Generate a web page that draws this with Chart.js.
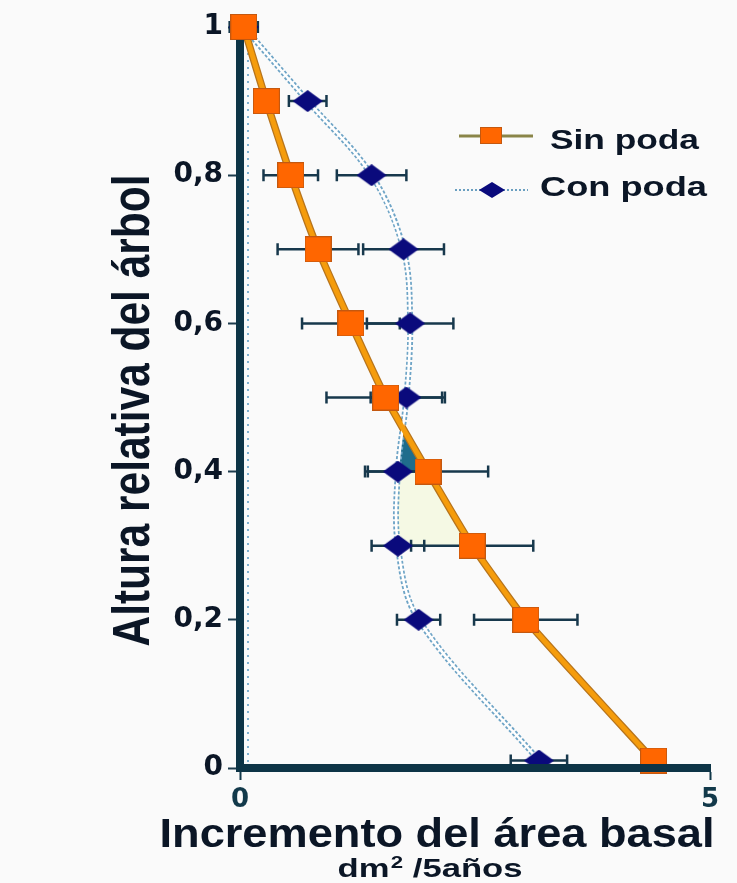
<!DOCTYPE html>
<html>
<head>
<meta charset="utf-8">
<title>Incremento del área basal</title>
<script src="https://cdn.jsdelivr.net/npm/chart.js@4.4.0/dist/chart.umd.min.js"></script>
<style>
  html, body { margin: 0; padding: 0; background: #fafafa; }
  #wrap { position: relative; width: 737px; height: 883px; }
</style>
</head>
<body>
<div id="wrap"><canvas id="chart"></canvas></div>
<script>
// relative tree height for each measured row
const heights = [1, 0.9, 0.8, 0.7, 0.6, 0.5, 0.4, 0.3, 0.2, 0.01];

// basal area increment (dm2 / 5 years) and the +/- error
const sinPoda    = [0.04, 0.28, 0.54, 0.83, 1.18, 1.55, 2.00, 2.47, 3.04, 4.40];
const sinPodaErr = [0.15, 0,    0.29, 0.43, 0.52, 0.63, 0.64, 0.65, 0.55, 0];
const conPoda    = [0.04, 0.72, 1.40, 1.74, 1.81, 1.77, 1.68, 1.68, 1.90, 3.18];
const conPodaErr = [0,    0.20, 0.37, 0.43, 0.46, 0.38, 0.35, 0.28, 0.23, 0.30];

const seriesNames = ['Sin poda', 'Con poda'];
const xTickLabels = ['0', '5'];
const yTickLabels = ['0', '0,2', '0,4', '0,6', '0,8', '1'];

// colours
const ORANGE = '#ff6600';
const ORANGE_LINE = '#f59c0c';
const NAVY = '#0a0a7c';
const AXIS = '#0d3446';
const TEXT = '#0b1626';

const toPoints = xs => xs.map((x, i) => ({ x: x, y: heights[i] }));

// marker images (the original markers are a bit wider than tall)
function squareMarker(w, h) {
    const c = document.createElement('canvas');
    c.width = w; c.height = h;
    const g = c.getContext('2d');
    g.fillStyle = '#c4580f';
    g.fillRect(0, 0, w, h);
    g.fillStyle = ORANGE;
    g.fillRect(1, 1, w - 2, h - 2);
    return c;
}

function diamondMarker(w, h) {
    const c = document.createElement('canvas');
    c.width = w; c.height = h;
    const g = c.getContext('2d');
    g.fillStyle = NAVY;
    g.beginPath();
    g.moveTo(w / 2, 0);
    g.lineTo(w, h / 2);
    g.lineTo(w / 2, h);
    g.lineTo(0, h / 2);
    g.closePath();
    g.fill();
    return c;
}

const squareImg = squareMarker(27, 26);
const diamondImg = diamondMarker(30, 22);

// text squeezed/stretched to a given width
function stretchedText(ctx, text, font, cx, baseline, width) {
    ctx.save();
    ctx.font = font;
    const w = ctx.measureText(text).width;
    ctx.translate(cx, baseline);
    ctx.scale(width / w, 1);
    ctx.textAlign = 'center';
    ctx.textBaseline = 'alphabetic';
    ctx.fillText(text, 0, 0);
    ctx.restore();
}

// shaded area where the two profiles cross, plus the dotted guide by the axis
const crossFill = {
    id: 'crossFill',
    beforeDatasetsDraw(chart) {
        const { ctx, chartArea, scales: { x, y } } = chart;
        const i = heights.indexOf(0.5), j = i + 1, k = i + 2;
        const d0 = sinPoda[i] - conPoda[i];
        const d1 = sinPoda[j] - conPoda[j];
        const t = d0 / (d0 - d1);
        const cx = sinPoda[i] + t * (sinPoda[j] - sinPoda[i]);
        const cy = heights[i] + t * (heights[j] - heights[i]);

        const poly = (pts, color) => {
            ctx.beginPath();
            pts.forEach((p, n) => {
                const px = x.getPixelForValue(p[0]);
                const py = y.getPixelForValue(p[1]);
                if (n === 0) ctx.moveTo(px, py); else ctx.lineTo(px, py);
            });
            ctx.closePath();
            ctx.fillStyle = color;
            ctx.fill();
        };

        ctx.save();
        poly([[sinPoda[j], heights[j]], [sinPoda[k], heights[k]],
              [conPoda[k], heights[k]], [conPoda[j], heights[j]]], '#f5f9e4');
        poly([[cx, cy], [sinPoda[j], heights[j]], [conPoda[j], heights[j]]], '#1f6d8c');

        ctx.strokeStyle = '#7fb0cf';
        ctx.lineWidth = 2;
        ctx.setLineDash([2, 5]);
        ctx.beginPath();
        ctx.moveTo(chartArea.left + 8, chartArea.top + 12);
        ctx.lineTo(chartArea.left + 8, chartArea.bottom - 6);
        ctx.stroke();
        ctx.restore();
        chart.$errDrawn = false;
    }
};

// horizontal error bars, drawn once just before the first marker set
const errorBars = {
    id: 'errorBars',
    beforeDatasetDraw(chart, args) {
        const ds = chart.data.datasets[args.index];
        if (!ds.errors || chart.$errDrawn) return;
        chart.$errDrawn = true;
        const { ctx, scales: { x, y } } = chart;
        ctx.save();
        ctx.strokeStyle = '#17384c';
        ctx.lineWidth = 2.5;
        chart.data.datasets.forEach(set => {
            if (!set.errors) return;
            set.data.forEach((p, n) => {
                const e = set.errors[n];
                if (!e) return;
                const x1 = x.getPixelForValue(p.x - e);
                const x2 = x.getPixelForValue(p.x + e);
                const py = y.getPixelForValue(p.y);
                ctx.beginPath();
                ctx.moveTo(x1, py); ctx.lineTo(x2, py);
                ctx.moveTo(x1, py - 6); ctx.lineTo(x1, py + 6);
                ctx.moveTo(x2, py - 6); ctx.lineTo(x2, py + 6);
                ctx.stroke();
            });
        });
        ctx.restore();
    }
};

// titles and legend
const decorations = {
    id: 'decorations',
    beforeDraw(chart) {
        const { ctx, width, height } = chart;
        ctx.save();
        ctx.fillStyle = '#fafafa';
        ctx.fillRect(0, 0, width, height);
        ctx.restore();
    },
    afterDraw(chart) {
        const { ctx, chartArea } = chart;
        ctx.save();
        ctx.fillStyle = TEXT;

        // y title, rotated
        ctx.save();
        ctx.font = 'bold 40px "Liberation Sans", Arial, sans-serif';
        const yt = 'Altura relativa del árbol';
        const yw = ctx.measureText(yt).width;
        ctx.translate(149, (chartArea.top + chartArea.bottom) / 2 + 13);
        ctx.rotate(-Math.PI / 2);
        ctx.scale(472 / yw, 1.3);
        ctx.textAlign = 'center';
        ctx.fillText(yt, 0, 0);
        ctx.restore();

        // x title and units
        stretchedText(ctx, 'Incremento del área basal',
            'bold 40px "Liberation Sans", Arial, sans-serif', 437, 847, 555);

        ctx.save();
        const big = 'bold 25px "Liberation Sans", Arial, sans-serif';
        const small = 'bold 16px "Liberation Sans", Arial, sans-serif';
        ctx.font = big;
        const wA = ctx.measureText('dm').width;
        const wC = ctx.measureText(' /5años').width;
        ctx.font = small;
        const wB = ctx.measureText('2').width + 1;
        const total = wA + wB + wC;
        const sx = 185 / total;
        ctx.translate(430 - 185 / 2, 877);
        ctx.scale(sx, 1);
        ctx.textAlign = 'left';
        ctx.font = big;
        ctx.fillText('dm', 0, 0);
        ctx.font = small;
        ctx.fillText('2', wA + 1, -9);
        ctx.font = big;
        ctx.fillText(' /5años', wA + wB, 0);
        ctx.restore();

        // legend
        ctx.save();
        ctx.strokeStyle = '#8a8548';
        ctx.lineWidth = 3;
        ctx.beginPath();
        ctx.moveTo(459, 136); ctx.lineTo(533, 136);
        ctx.stroke();
        ctx.drawImage(squareMarker(22, 17), 480, 127);

        ctx.strokeStyle = '#6a9fc0';
        ctx.lineWidth = 2;
        ctx.setLineDash([2, 2]);
        ctx.beginPath();
        ctx.moveTo(455, 190); ctx.lineTo(528, 190);
        ctx.stroke();
        ctx.setLineDash([]);
        ctx.drawImage(diamondMarker(26, 16), 479, 182);
        ctx.restore();

        ctx.fillStyle = TEXT;
        const lf = 'bold 28px "Liberation Sans", Arial, sans-serif';
        stretchedText(ctx, seriesNames[0], lf, 550 + 149 / 2, 149, 149);
        stretchedText(ctx, seriesNames[1], lf, 540 + 167 / 2, 196, 167);
        ctx.restore();
    }
};

const tickFont = { family: '"DejaVu Sans", Verdana, sans-serif', weight: 'bold', size: 28 };

new Chart(document.getElementById('chart'), {
    type: 'scatter',
    data: {
        datasets: [
            { label: seriesNames[0], data: toPoints(sinPoda), errors: sinPodaErr,
              showLine: false, pointStyle: squareImg, pointRadius: 13, order: 0, clip: false },
            { label: seriesNames[1], data: toPoints(conPoda), errors: conPodaErr,
              showLine: false, pointStyle: diamondImg, pointRadius: 13, order: 1, clip: false },
            { data: toPoints(sinPoda), showLine: true, borderColor: ORANGE_LINE, borderWidth: 5,
              tension: 0.15, pointRadius: 0, order: 2, clip: false },
            { data: toPoints(conPoda), showLine: true, borderColor: '#ffffff', borderWidth: 2.5,
              tension: 0.35, pointRadius: 0, order: 2, clip: false },
            { data: toPoints(sinPoda), showLine: true, borderColor: '#b7741c', borderWidth: 7.5,
              tension: 0.15, pointRadius: 0, order: 3, clip: false },
            { data: toPoints(conPoda), showLine: true, borderColor: '#6ea4c6', borderWidth: 6,
              borderDash: [3, 2], tension: 0.35, pointRadius: 0, order: 3, clip: false }
        ]
    },
    options: {
        responsive: true,
        maintainAspectRatio: false,
        animation: false,
        events: [],
        layout: { padding: { top: 27, right: 27, left: 0, bottom: 0 } },
        plugins: {
            legend: { display: false },
            tooltip: { enabled: false }
        },
        scales: {
            x: {
                type: 'linear',
                min: 0,
                max: 5,
                border: { display: true, color: AXIS, width: 8, z: 1 },
                grid: { drawOnChartArea: false, tickLength: 12, tickWidth: 2, tickColor: '#12394a' },
                ticks: {
                    stepSize: 5,
                    padding: 5,
                    color: '#12394a',
                    font: { family: '"DejaVu Sans", Verdana, sans-serif', weight: 'bold', size: 26 },
                    callback: (v, i) => xTickLabels[i]
                },
                afterFit: s => { s.height = 115; }
            },
            y: {
                min: 0,
                max: 1,
                border: { display: true, color: AXIS, width: 8 },
                grid: { drawOnChartArea: false, tickLength: 12, tickWidth: 2, tickColor: '#1d3b4d' },
                ticks: {
                    stepSize: 0.2,
                    padding: 5,
                    color: TEXT,
                    font: tickFont,
                    callback: (v, i) => yTickLabels[i]
                },
                afterFit: s => { s.width = 240; }
            }
        }
    },
    plugins: [crossFill, errorBars, decorations]
});
</script>
</body>
</html>
